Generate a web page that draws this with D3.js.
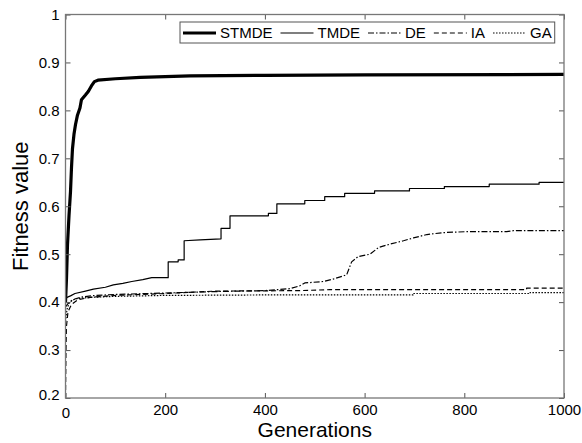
<!DOCTYPE html>
<html>
<head>
<meta charset="utf-8">
<script src="https://cdn.jsdelivr.net/npm/d3@7"></script>
<style>
  body { margin: 0; background: #fff; }
  text { font-family: "Liberation Sans", Arial, sans-serif; fill: #000; }
</style>
</head>
<body>
<div id="chart"></div>
<script>
// series values: [generation, fitness]
const stmde = [[0,0.40],[2,0.45],[4,0.52],[7,0.58],[10,0.63],[12,0.68],[14,0.72],[17,0.75],[20,0.77],[24,0.79],[29,0.805],[32,0.822],[40,0.832],[46,0.84],[52,0.851],[58,0.86],[65,0.863],[100,0.866],[150,0.869],[250,0.872],[400,0.873],[600,0.874],[1000,0.875]]
const tmde = [[0,0.405],[3,0.41],[10,0.413],[19,0.418],[40,0.423],[56,0.427],[80,0.431],[96,0.436],[115,0.439],[133,0.443],[155,0.447],[173,0.451],[206,0.451],[206,0.484],[226,0.484],[226,0.488],[238,0.488],[238,0.528],[270,0.53],[312,0.532],[312,0.554],[330,0.554],[330,0.58],[407,0.58],[407,0.585],[424,0.585],[424,0.605],[480,0.605],[480,0.612],[520,0.612],[520,0.62],[560,0.62],[560,0.627],[620,0.627],[620,0.632],[690,0.632],[690,0.637],[760,0.637],[760,0.641],[850,0.641],[850,0.646],[950,0.646],[950,0.65],[1000,0.65]]
const de = [[0,0.39],[5,0.397],[10,0.402],[20,0.407],[35,0.411],[60,0.414],[100,0.416],[200,0.419],[300,0.422],[400,0.424],[450,0.428],[470,0.434],[480,0.44],[517,0.443],[537,0.448],[564,0.457],[574,0.484],[587,0.495],[611,0.50],[628,0.514],[651,0.521],[678,0.528],[698,0.534],[725,0.541],[758,0.545],[805,0.547],[885,0.547],[898,0.549],[1000,0.549]]
const ia = [[0,0.2],[1,0.30],[2,0.35],[5,0.38],[12,0.395],[25,0.405],[50,0.41],[100,0.414],[200,0.418],[300,0.423],[470,0.424],[530,0.426],[925,0.426],[925,0.429],[1000,0.429]]
const ga = [[0,0.36],[3,0.385],[8,0.40],[20,0.407],[50,0.41],[100,0.412],[200,0.414],[400,0.415],[697,0.415],[697,0.418],[932,0.418],[932,0.42],[1000,0.42]]

const seriesNames = ['STMDE', 'TMDE', 'DE', 'IA', 'GA']
const seriesData = [stmde, tmde, de, ia, ga]
const seriesWidth = [3.2, 1.2, 1.2, 1.2, 1.2]
const seriesDash = [null, null, '6,2,1.5,2', '5,3', '1.5,1.5']

const xTicks = [0, 200, 400, 600, 800, 1000]
const yTicks = [0.2, 0.3, 0.4, 0.5, 0.6, 0.7, 0.8, 0.9, 1]

const W = 582, H = 443
const plot = {left: 65.5, right: 564, top: 14.5, bottom: 398}

const svg = d3.select('#chart').append('svg')
    .attr('width', W)
    .attr('height', H)

const xScale = d3.scaleLinear().domain([0, 1000]).range([plot.left, plot.right])
const yScale = d3.scaleLinear().domain([0.2, 1]).range([plot.bottom, plot.top])

// clip lines to the plot box
svg.append('clipPath').attr('id', 'clip')
    .append('rect')
    .attr('x', plot.left).attr('y', plot.top)
    .attr('width', plot.right - plot.left).attr('height', plot.bottom - plot.top)

const line = d3.line()
    .x(d => xScale(d[0]))
    .y(d => yScale(d[1]))

// draw thin lines first, thick STMDE on top
const order = [4, 3, 2, 1, 0]
svg.append('g').attr('clip-path', 'url(#clip)')
    .selectAll('path')
    .data(order)
    .enter()
    .append('path')
        .attr('fill', 'none')
        .attr('stroke', '#000')
        .attr('stroke-width', i => seriesWidth[i])
        .attr('stroke-dasharray', i => seriesDash[i])
        .attr('stroke-linejoin', 'round')
        .attr('d', i => line(seriesData[i]))

// axes, matlab style: ticks inward on all four sides
const tickLen = 5
const fmtY = d => d === 1 ? '1' : d3.format('.1f')(d)
const fmtX = d3.format('d')

const xAxis = svg.append('g')
    .attr('transform', `translate(0,${plot.bottom})`)
    .call(d3.axisBottom(xScale).tickValues(xTicks).tickSizeInner(-tickLen).tickSizeOuter(0).tickPadding(6).tickFormat(fmtX))
const xAxisTop = svg.append('g')
    .attr('transform', `translate(0,${plot.top})`)
    .call(d3.axisTop(xScale).tickValues(xTicks).tickSizeInner(-tickLen).tickSizeOuter(0).tickFormat(''))
const yAxis = svg.append('g')
    .attr('transform', `translate(${plot.left},0)`)
    .call(d3.axisLeft(yScale).tickValues(yTicks).tickSizeInner(-tickLen).tickSizeOuter(0).tickPadding(6).tickFormat(fmtY))
const yAxisRight = svg.append('g')
    .attr('transform', `translate(${plot.right},0)`)
    .call(d3.axisRight(yScale).tickValues(yTicks).tickSizeInner(-tickLen).tickSizeOuter(0).tickFormat(''))

;[xAxis, xAxisTop, yAxis, yAxisRight].forEach(a => {
    a.select('.domain').remove()
    a.selectAll('line').attr('stroke', '#555')
    a.selectAll('text')
        .attr('font-size', '15px')
        .attr('font-family', '"Liberation Sans", Arial, sans-serif')
        .attr('fill', '#000')
})
// first labels sit a bit off like in matlab
yAxis.selectAll('.tick').filter(d => d === 0.2).select('text').attr('dy', '0.1em')
xAxis.selectAll('.tick').filter(d => d === 0).select('text').attr('dy', '0.9em')

// plot box
svg.append('rect')
    .attr('x', plot.left).attr('y', plot.top)
    .attr('width', plot.right - plot.left).attr('height', plot.bottom - plot.top)
    .attr('fill', 'none')
    .attr('stroke', '#777')
    .attr('stroke-width', 1.3)

// axis labels
svg.append('text')
    .attr('x', (plot.left + plot.right) / 2)
    .attr('y', 437)
    .attr('text-anchor', 'middle')
    .attr('font-size', '21px')
    .text('Generations')

svg.append('text')
    .attr('transform', `translate(28, ${(plot.top + plot.bottom) / 2}) rotate(-90)`)
    .attr('text-anchor', 'middle')
    .attr('font-size', '22px')
    .text('Fitness value')

// legend
const legend = svg.append('g')
const legBox = legend.append('rect')
    .attr('fill', '#fff')
    .attr('stroke', '#555')
    .attr('stroke-width', 1)

let cursor = 183
const legY = 33
seriesNames.forEach((name, i) => {
    legend.append('line')
        .attr('x1', cursor).attr('x2', cursor + 33)
        .attr('y1', legY).attr('y2', legY)
        .attr('stroke', '#000')
        .attr('stroke-width', seriesWidth[i])
        .attr('stroke-dasharray', seriesDash[i])
    const t = legend.append('text')
        .attr('x', cursor + 37)
        .attr('y', legY)
        .attr('dy', '0.36em')
        .attr('font-size', '15px')
        .text(name)
    cursor += 37 + t.node().getComputedTextLength() + 8
})
legBox.attr('x', 180).attr('y', 22).attr('width', cursor - 8 + 3 - 180).attr('height', 21)
</script>
</body>
</html>
